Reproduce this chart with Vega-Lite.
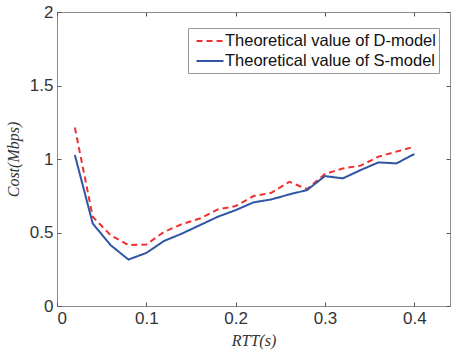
{
  "$schema": "https://vega.github.io/schema/vega-lite/v6.json",
  "autosize": {"type": "none"},
  "width": 393,
  "height": 294,
  "padding": {"left": 57, "top": 12, "right": 1, "bottom": 46},
  "background": "white",
  "config": {
    "view": {"stroke": "#8c8c8c", "strokeWidth": 1},
    "axis": {"grid": false, "domain": false, "tickColor": "#555", "tickSize": -4, "labelFont": "Liberation Sans", "labelFontSize": 17, "labelColor": "#333", "titleColor": "#333"}
  },
  "data": {"values": [
    {"rtt": 0.02, "cost": 1.214, "model": "Theoretical value of D-model"},
    {"rtt": 0.04, "cost": 0.607, "model": "Theoretical value of D-model"},
    {"rtt": 0.06, "cost": 0.482, "model": "Theoretical value of D-model"},
    {"rtt": 0.08, "cost": 0.414, "model": "Theoretical value of D-model"},
    {"rtt": 0.10, "cost": 0.418, "model": "Theoretical value of D-model"},
    {"rtt": 0.12, "cost": 0.505, "model": "Theoretical value of D-model"},
    {"rtt": 0.14, "cost": 0.557, "model": "Theoretical value of D-model"},
    {"rtt": 0.16, "cost": 0.595, "model": "Theoretical value of D-model"},
    {"rtt": 0.18, "cost": 0.657, "model": "Theoretical value of D-model"},
    {"rtt": 0.20, "cost": 0.68, "model": "Theoretical value of D-model"},
    {"rtt": 0.22, "cost": 0.748, "model": "Theoretical value of D-model"},
    {"rtt": 0.24, "cost": 0.77, "model": "Theoretical value of D-model"},
    {"rtt": 0.26, "cost": 0.845, "model": "Theoretical value of D-model"},
    {"rtt": 0.28, "cost": 0.795, "model": "Theoretical value of D-model"},
    {"rtt": 0.30, "cost": 0.898, "model": "Theoretical value of D-model"},
    {"rtt": 0.32, "cost": 0.936, "model": "Theoretical value of D-model"},
    {"rtt": 0.34, "cost": 0.955, "model": "Theoretical value of D-model"},
    {"rtt": 0.36, "cost": 1.016, "model": "Theoretical value of D-model"},
    {"rtt": 0.38, "cost": 1.05, "model": "Theoretical value of D-model"},
    {"rtt": 0.40, "cost": 1.084, "model": "Theoretical value of D-model"},
    {"rtt": 0.02, "cost": 1.027, "model": "Theoretical value of S-model"},
    {"rtt": 0.04, "cost": 0.561, "model": "Theoretical value of S-model"},
    {"rtt": 0.06, "cost": 0.414, "model": "Theoretical value of S-model"},
    {"rtt": 0.08, "cost": 0.316, "model": "Theoretical value of S-model"},
    {"rtt": 0.10, "cost": 0.361, "model": "Theoretical value of S-model"},
    {"rtt": 0.12, "cost": 0.443, "model": "Theoretical value of S-model"},
    {"rtt": 0.14, "cost": 0.493, "model": "Theoretical value of S-model"},
    {"rtt": 0.16, "cost": 0.55, "model": "Theoretical value of S-model"},
    {"rtt": 0.18, "cost": 0.607, "model": "Theoretical value of S-model"},
    {"rtt": 0.20, "cost": 0.652, "model": "Theoretical value of S-model"},
    {"rtt": 0.22, "cost": 0.705, "model": "Theoretical value of S-model"},
    {"rtt": 0.24, "cost": 0.725, "model": "Theoretical value of S-model"},
    {"rtt": 0.26, "cost": 0.759, "model": "Theoretical value of S-model"},
    {"rtt": 0.28, "cost": 0.789, "model": "Theoretical value of S-model"},
    {"rtt": 0.30, "cost": 0.884, "model": "Theoretical value of S-model"},
    {"rtt": 0.32, "cost": 0.868, "model": "Theoretical value of S-model"},
    {"rtt": 0.34, "cost": 0.925, "model": "Theoretical value of S-model"},
    {"rtt": 0.36, "cost": 0.977, "model": "Theoretical value of S-model"},
    {"rtt": 0.38, "cost": 0.97, "model": "Theoretical value of S-model"},
    {"rtt": 0.40, "cost": 1.034, "model": "Theoretical value of S-model"}
  ]},
  "layer": [
    {
      "mark": {"type": "line", "strokeWidth": 2},
      "encoding": {
        "x": {"field": "rtt", "type": "quantitative", "scale": {"domain": [0, 0.44], "nice": false, "zero": false},
              "axis": {"orient": "bottom", "values": [0, 0.1, 0.2, 0.3, 0.4], "format": "~g", "title": "RTT(s)", "titleFont": "Liberation Serif", "titleFontStyle": "italic", "titleFontWeight": "normal", "titleFontSize": 16, "titlePadding": 6, "labelPadding": 8}},
        "y": {"field": "cost", "type": "quantitative", "scale": {"domain": [0, 2], "nice": false},
              "axis": {"orient": "left", "values": [0, 0.5, 1, 1.5, 2], "format": "~g", "title": "Cost(Mbps)", "titleFont": "Liberation Serif", "titleFontStyle": "italic", "titleFontWeight": "normal", "titleFontSize": 16, "titlePadding": 8, "labelPadding": 8}},
        "color": {"field": "model", "type": "nominal",
                  "scale": {"domain": ["Theoretical value of D-model", "Theoretical value of S-model"], "range": ["#f03030", "#2f55a4"]},
                  "legend": {"title": null, "orient": "none", "legendX": 131, "legendY": 16, "symbolType": "M-1.5,0H1.5", "symbolSize": 324, "symbolStrokeWidth": 2, "labelFont": "Liberation Sans", "labelFontSize": 16.5, "labelLimit": 400, "labelColor": "#111", "strokeColor": "#999", "fillColor": "white", "padding": 3, "rowPadding": 1, "labelOffset": 5, "symbolOffset": 9}},
        "strokeDash": {"field": "model", "type": "nominal",
                       "scale": {"domain": ["Theoretical value of D-model", "Theoretical value of S-model"], "range": [[6, 4], [1, 0]]},
                       "legend": null}
      }
    },
    {
      "mark": {"type": "point", "opacity": 0},
      "encoding": {
        "x": {"field": "rtt", "type": "quantitative", "axis": {"orient": "top", "values": [0, 0.1, 0.2, 0.3, 0.4], "labels": false, "title": null}},
        "y": {"field": "cost", "type": "quantitative", "axis": {"orient": "right", "values": [0, 0.5, 1, 1.5, 2], "labels": false, "title": null}}
      }
    }
  ],
  "resolve": {"axis": {"x": "independent", "y": "independent"}}
}
